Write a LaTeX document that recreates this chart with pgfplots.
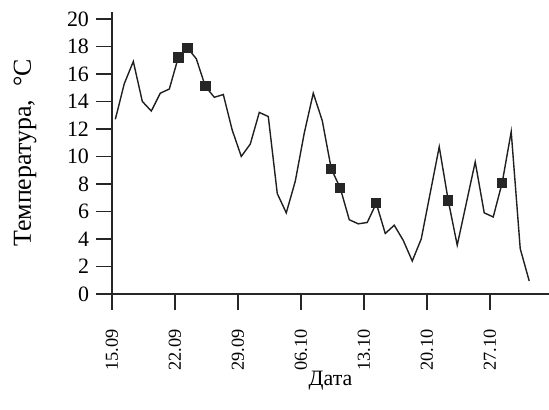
\documentclass[border=0pt]{standalone}
\usepackage{fontspec}
\setmainfont{Liberation Serif}
\usepackage{pgfplots}
\pgfplotsset{compat=1.18}
\begin{document}
\begin{tikzpicture}
\begin{axis}[
 scale only axis, width=218.5bp, height=141bp,
 xmin=-0.37, xmax=48.2, ymin=0, ymax=20.5,
 axis x line=bottom, axis y line=left,
 axis line style={-, line width=0.75bp, color=black!85},
 tick align=outside, major tick length=8bp,
 tick style={line width=0.75bp, color=black!85},
 xtick={-0.37,6.63,13.63,20.63,27.63,34.63,41.63},
 xticklabels={\textrm{15.09},\textrm{22.09},\textrm{29.09},\textrm{06.10},\textrm{13.10},\textrm{20.10},\textrm{27.10}},
 xticklabel style={font=\rmfamily\fontsize{9.2}{11}\selectfont, yshift=-8bp, rotate=90, anchor=east, inner sep=1.5bp},
 ytick={0,2,...,20},
 yticklabels={\textrm{0},\textrm{2},\textrm{4},\textrm{6},\textrm{8},\textrm{10},\textrm{12},\textrm{14},\textrm{16},\textrm{18},\textrm{20}},
 yticklabel style={font=\rmfamily\fontsize{11}{13}\selectfont},
 xlabel={Дата}, ylabel={Температура,\ \ °C},
 xlabel style={font=\fontsize{11}{13}\selectfont, at={(axis description cs:0.5,-0.326)}, anchor=base},
 ylabel style={font=\fontsize{13}{15}\selectfont, at={(axis description cs:-0.1854,0.5)}, anchor=base},
 clip=false,
]
\coordinate (BL) at (rel axis cs:0,0);
\coordinate (TR) at (rel axis cs:1,1);
\addplot[color=black!88, line width=0.7bp, mark=none] coordinates {
(0,12.7) (1,15.3) (2,16.9) (3,14.0) (4,13.3) (5,14.6) (6,14.9) (7,17.2)
(8,17.9) (9,17.1) (10,15.1) (11,14.3) (12,14.5) (13,11.9) (14,10.0)
(15,10.9) (16,13.2) (17,12.9) (18,7.3) (19,5.9) (20,8.2) (21,11.7)
(22,14.6) (23,12.6) (24,9.1) (25,7.7) (26,5.4) (27,5.1) (28,5.2)
(29,6.6) (30,4.4) (31,5.0) (32,3.9) (33,2.4) (34,4.0) (36,10.7)
(37,6.8) (38,3.55) (40,9.6) (41,5.9) (42,5.6) (43,8.1) (44,11.8)
(45,3.3) (46,0.95)
};
\addplot[only marks, mark=square*, mark size=2.3bp, color=black!85] coordinates {
(7,17.2) (8,17.9) (10,15.1) (24,9.1) (25,7.7) (29,6.6) (37,6.8) (43,8.1)
};
\end{axis}
\pgfresetboundingbox
\path[use as bounding box] ([shift={(-56bp,-58bp)}]BL) rectangle ([shift={(0bp,6bp)}]TR);
\end{tikzpicture}
\end{document}
